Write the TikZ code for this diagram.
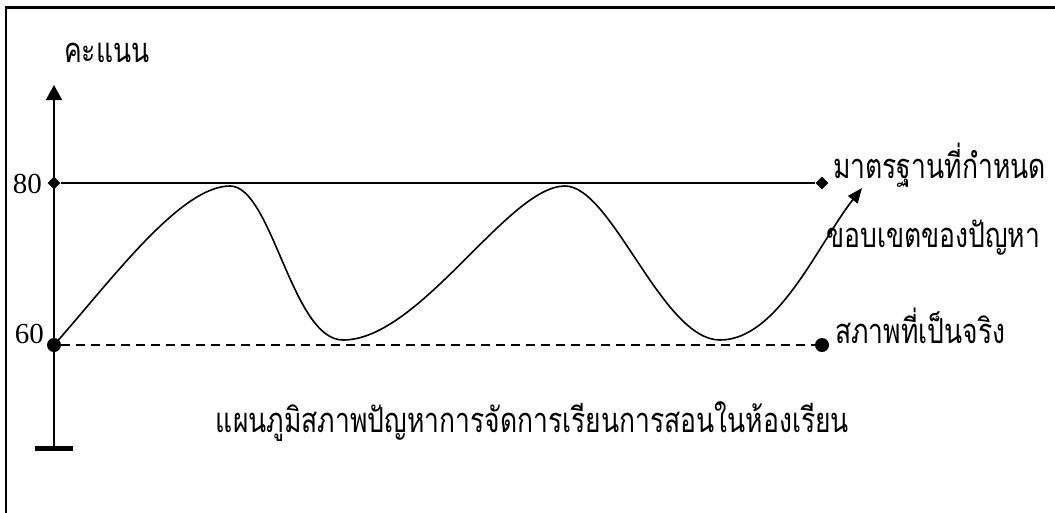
\documentclass[tikz,border=0pt]{standalone}
\usepackage{fontspec}
\setmainfont{Liberation Serif}
\newfontfamily\thaifont[Script=Thai]{Loma}
\usetikzlibrary{arrows.meta,shapes.geometric}
\newcommand{\tl}[1]{\scalebox{1}[1.3]{#1}}
\begin{document}
\begin{tikzpicture}[x=1pt,y=-1pt,
  ln/.style={line width=1.6pt},
  dia/.style={diamond,fill=black,inner sep=0pt,minimum size=13pt},
  dot/.style={circle,fill=black,inner sep=0pt,minimum size=14pt},
  thai/.style={font=\thaifont\fontsize{26.5}{30}\selectfont,inner sep=0pt},
  num/.style={font=\fontsize{29}{32}\selectfont,inner sep=0pt}]
\useasboundingbox (0,0) rectangle (1055,512);
% frame
\draw[line width=2.5pt] (6,520) -- (6,7.5) -- (1060,7.5);
% axis
\coordinate (ab) at (54,448);
\coordinate (at) at (54,85);
\draw[ln,-{Triangle[length=15pt,width=16pt]}] (ab) -- (at);
\draw[line width=5pt] (35,448) -- (73,448);
% markers
\node[dia] (d1) at (54,183) {};
\node[dia] (d2) at (822,183) {};
\node[dot] (p1) at (54,345) {};
\node[dot] (p2) at (822,345) {};
\draw[ln] (d1) -- (d2);
\draw[ln,dashed,dash pattern=on 9pt off 6pt] (p1) -- (p2);
% curve
\coordinate (c0) at (54,345);
\coordinate (c1) at (230,186);
\coordinate (c2) at (343,340);
\coordinate (c3) at (565,186);
\coordinate (c4) at (720,340);
\coordinate (c5) at (862,188);
\draw[ln,-{Triangle[length=15pt,width=12pt]}] (c0)
  .. controls (110,282) and (180,186) .. (c1)
  .. controls (272,186) and (292,340) .. (c2)
  .. controls (420,340) and (508,186) .. (c3)
  .. controls (612,186) and (662,340) .. (c4)
  .. controls (778,340) and (818,244) .. (c5);
% labels
\node[thai,anchor=base west] (ly) at (64,62) {\tl{คะแนน}};
\node[num,anchor=base east] (l80) at (42,193) {80};
\node[num,anchor=base east] (l60) at (44,343) {60};
\node[thai,anchor=base west] (lstd) at (833,178) {\tl{มาตรฐานที่กำหนด}};
\node[thai,anchor=base west] (lscope) at (826,247) {\tl{ขอบเขตของปัญหา}};
\node[thai,anchor=base west] (lreal) at (835,343) {\tl{สภาพที่เป็นจริง}};
\node[thai,anchor=base] (cap) at (532.5,432) {\tl{แผนภูมิสภาพปัญหาการจัดการเรียนการสอนในห้องเรียน}};
\end{tikzpicture}
\end{document}
